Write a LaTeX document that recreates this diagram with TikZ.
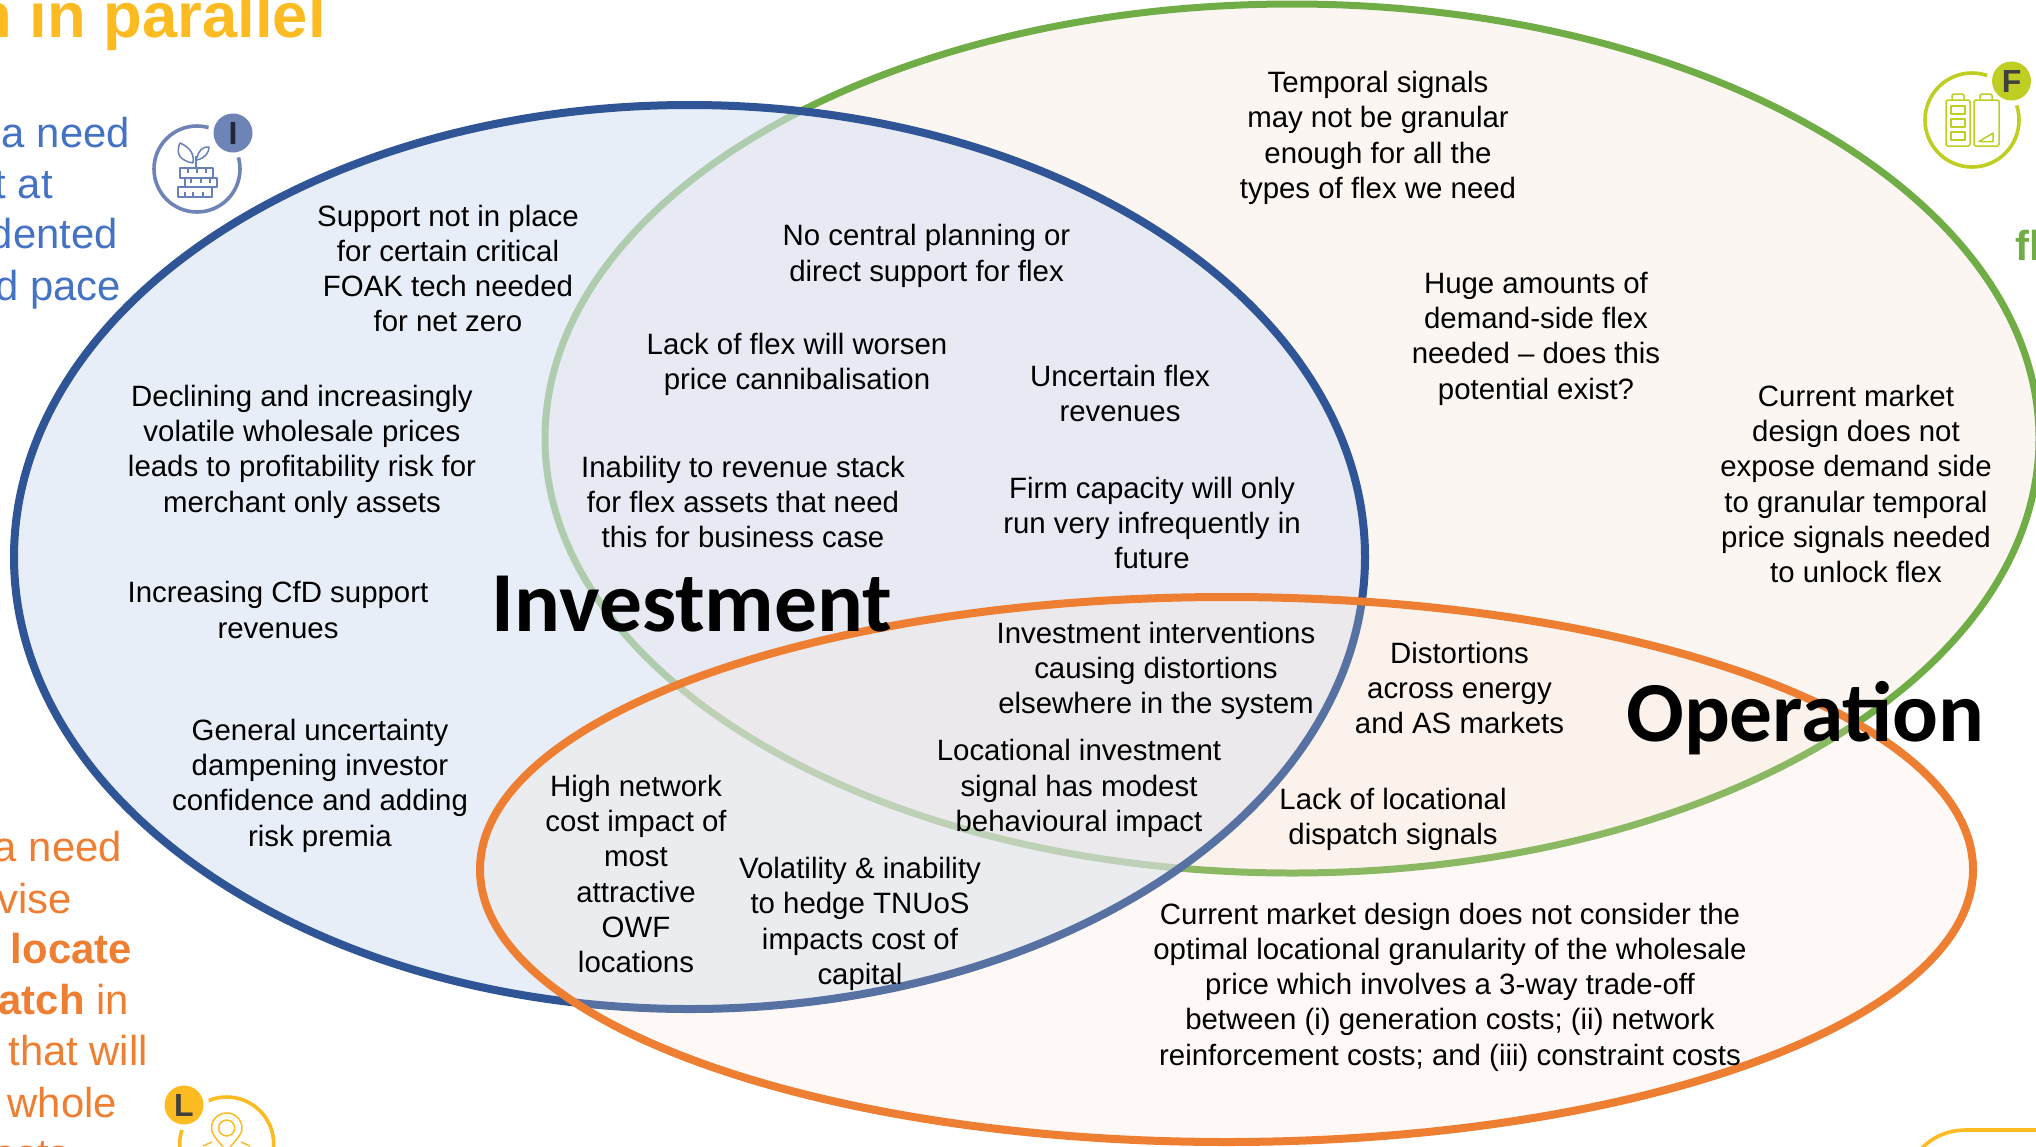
\documentclass[tikz,border=0pt]{standalone}
\usepackage{fontspec}
\setmainfont{Liberation Sans}
\newfontfamily\calib{Carlito}
\definecolor{cblue}{HTML}{2F5597}
\definecolor{cgreen}{HTML}{70AD47}
\definecolor{corange}{HTML}{EE7E31}
\definecolor{fblue}{HTML}{DAE3F3}
\definecolor{fwarm}{HTML}{FBE5D6}
\definecolor{fgreen}{HTML}{FBF6F2}
\definecolor{ctitle}{HTML}{FDBB22}
\definecolor{cside}{HTML}{4472C4}
\definecolor{iconI}{HTML}{6E83B6}
\definecolor{iconF}{HTML}{BFCE22}
\definecolor{iconL}{HTML}{FDBB22}
\definecolor{badgetxt}{HTML}{404040}
\tikzset{
 x=1pt,y=-1pt,
 body/.style={align=center,inner sep=0pt,text=black,font=\fontsize{29.4}{35.3}\selectfont},
 head/.style={inner sep=0pt,text=black,font=\calib\bfseries\fontsize{85.5}{90}\selectfont},
 side/.style={inner sep=0pt,anchor=base east,font=\fontsize{41.8}{50}\selectfont},
 badge/.style={circle,inner sep=0pt,minimum size=39pt,font=\bfseries\fontsize{32}{32}\selectfont,text=badgetxt},
 halo/.style={circle,fill=white,inner sep=0pt,minimum size=50pt},
 ring/.style={line width=3.6pt},
 fine/.style={line width=1.5pt,line join=round},
}
\begin{document}
\begin{tikzpicture}
\useasboundingbox (0,0) rectangle (2036,1146);
\clip (0,0) rectangle (2036,1146);
\fill[white] (0,0) rectangle (2036,1146);
% ---- side texts
\node[side,text=ctitle,font=\bfseries\fontsize{63.4}{63}\selectfont] (title) at (326,37) {n in parallel};
\node[side,text=cside] (b1) at (130,147) {a need};
\node[side,text=cside] (b2) at (53,198) {t at};
\node[side,text=cside] (b3) at (118,248) {dented};
\node[side,text=cside] (b4) at (121,300) {d pace};
\node[side,text=corange] (o1) at (122,861) {a need};
\node[side,text=corange] (o2) at (72,913) {vise};
\node[side,text=corange] (o3) at (132,963) {\bfseries locate};
\node[side,text=corange] (o4) at (129,1014) {{\bfseries atch} in};
\node[side,text=corange] (o5) at (148,1065) {that will};
\node[side,text=corange] (o6) at (117,1117) {whole};
\node[side,text=corange] (o7) at (70,1168) {costs};
\node[inner sep=0pt,anchor=base west,text=cgreen,font=\bfseries\fontsize{41.8}{50}\selectfont] (g1) at (2015,260) {fl};
% ---- venn
\fill[fgreen] (1292,438.5) ellipse [x radius=747,y radius=434.5];
\draw[cgreen,line width=7pt] (1292,438.5) ellipse [x radius=747,y radius=434.5];
\fill[fblue,fill opacity=.6] (689.5,557) ellipse [x radius=675.5,y radius=452];
\draw[cblue,line width=8pt] (689.5,557) ellipse [x radius=675.5,y radius=452];
\fill[fwarm,fill opacity=.2] (1226.5,869.5) ellipse [x radius=746.5,y radius=272.5];
\draw[corange,line width=8pt] (1226.5,869.5) ellipse [x radius=746.5,y radius=272.5];
% ---- texts
\node[body] (t1) at (448,268.5) {Support not in place\\for certain critical\\FOAK tech needed\\for net zero};
\node[body] (t2) at (302,451.5) {Declining and increasingly\\volatile wholesale prices\\leads to profitability risk for\\merchant only assets};
\node[body] (t3) at (278,610) {Increasing CfD support\\revenues};
\node[body] (t4) at (320,785.5) {General uncertainty\\dampening investor\\confidence and adding\\risk premia};
\node[body] (t5) at (926.5,256) {No central planning or\\direct support for flex};
\node[body] (t6) at (797,364.5) {Lack of flex will worsen\\price cannibalisation};
\node[body] (t7) at (1120,393.5) {Uncertain flex\\revenues};
\node[body] (t8) at (743,502) {Inability to revenue stack\\for flex assets that need\\this for business case};
\node[body] (t9) at (1152,523) {Firm capacity will only\\run very infrequently in\\future};
\node[head] (inv) at (692,604.5) {Investment};
\node[body] (t10) at (1156,671) {Investment interventions\\causing distortions\\elsewhere in the system};
\node[body] (t11) at (1459.5,688) {Distortions\\across energy\\and AS markets};
\node[head] (op) at (1805.5,718) {Operation};
\node[body] (t12) at (1079,788.5) {Locational investment\\signal has modest\\behavioural impact};
\node[body] (t13) at (1393,819.5) {Lack of locational\\dispatch signals};
\node[body] (t14) at (636,874) {High network\\cost impact of\\most\\attractive\\OWF\\locations};
\node[body] (t15) at (860,924) {Volatility \& inability\\to hedge TNUoS\\impacts cost of\\capital};
\node[body] (t16) at (1450,987) {Current market design does not consider the\\optimal locational granularity of the wholesale\\price which involves a 3-way trade-off\\between (i) generation costs; (ii) network\\reinforcement costs; and (iii) constraint costs};
\node[body] (t17) at (1378,138) {Temporal signals\\may not be granular\\enough for all the\\types of flex we need};
\node[body] (t18) at (1536,338.5) {Huge amounts of\\demand-side flex\\needed -- does this\\potential exist?};
\node[body] (t19) at (1856,484) {Current market\\design does not\\expose demand side\\to granular temporal\\price signals needed\\to unlock flex};
% ---- icon I
\draw[iconI,ring] (197,169) circle (43);
\node[halo] (hI) at (233,133) {};
\node[badge,fill=iconI,text=black!70!iconI] (bI) at (233,133) {I};
\begin{scope}[draw=iconI!85!cside,fine]
\draw (180,168) rectangle (213,178);
\draw (185,178) rectangle (217,187);
\draw (178,187) rectangle (212,197);
\draw (188,168) -- (188,173) (197,168) -- (197,173) (206,168) -- (206,173);
\draw (191,178) -- (191,183) (201,178) -- (201,183) (210,178) -- (210,183);
\draw (185,192) -- (185,197) (193,192) -- (193,197) (203,192) -- (203,197);
\draw (196,168) -- (196,156);
\draw (193,163) .. controls (176,160) and (177,150) .. (180,143) .. controls (187,146) and (195,152) .. (193,163);
\draw (197,158) .. controls (198,151) and (203,146) .. (209,147) .. controls (209,153) and (205,158) .. (197,160);
\end{scope}
% ---- icon F
\draw[iconF,ring] (1972,120) circle (47);
\node[halo] (hF) at (2011.5,81) {};
\node[badge,fill=iconF] (bF) at (2011.5,81) {F};
\begin{scope}[draw=iconF,fine]
\draw[rounded corners=1.5pt] (1946,100) rectangle (1970,146);
\draw[rounded corners=1.5pt] (1974,100) rectangle (1999,146);
\draw[rounded corners=1.5pt] (1952,100) -- (1952,94) -- (1964,94) -- (1964,100);
\draw[rounded corners=1.5pt] (1980,100) -- (1980,94) -- (1992,94) -- (1992,100);
\draw (1951,106) rectangle (1965,114);
\draw (1951,119) rectangle (1965,127);
\draw (1951,132) rectangle (1965,140);
\draw (1979,141.5) -- (1993,141.5) -- (1993,133) -- cycle;
\end{scope}
% ---- icon L
\draw[iconL,ring] (226.7,1144) circle (47);
\node[halo] (hL) at (184,1105) {};
\node[badge,fill=iconL] (bL) at (184,1105) {L};
\begin{scope}[draw=iconL,fine]
\draw (226.7,1128) circle (8);
\draw (226.7,1152) .. controls (220,1142) and (211.5,1136) .. (211.5,1128) .. controls (211.5,1119) and (219,1113) .. (226.7,1113) .. controls (234.5,1113) and (242,1119) .. (242,1128) .. controls (242,1136) and (233,1142) .. (226.7,1152);
\draw (203,1146) -- (212,1142) (241,1142) -- (250,1146);
\end{scope}
% ---- partial icon, lower right
\draw[iconL,ring] (1920,1150) .. controls (1932,1137) and (1948,1130) .. (1966,1130) -- (2040,1130);
\end{tikzpicture}
\end{document}
